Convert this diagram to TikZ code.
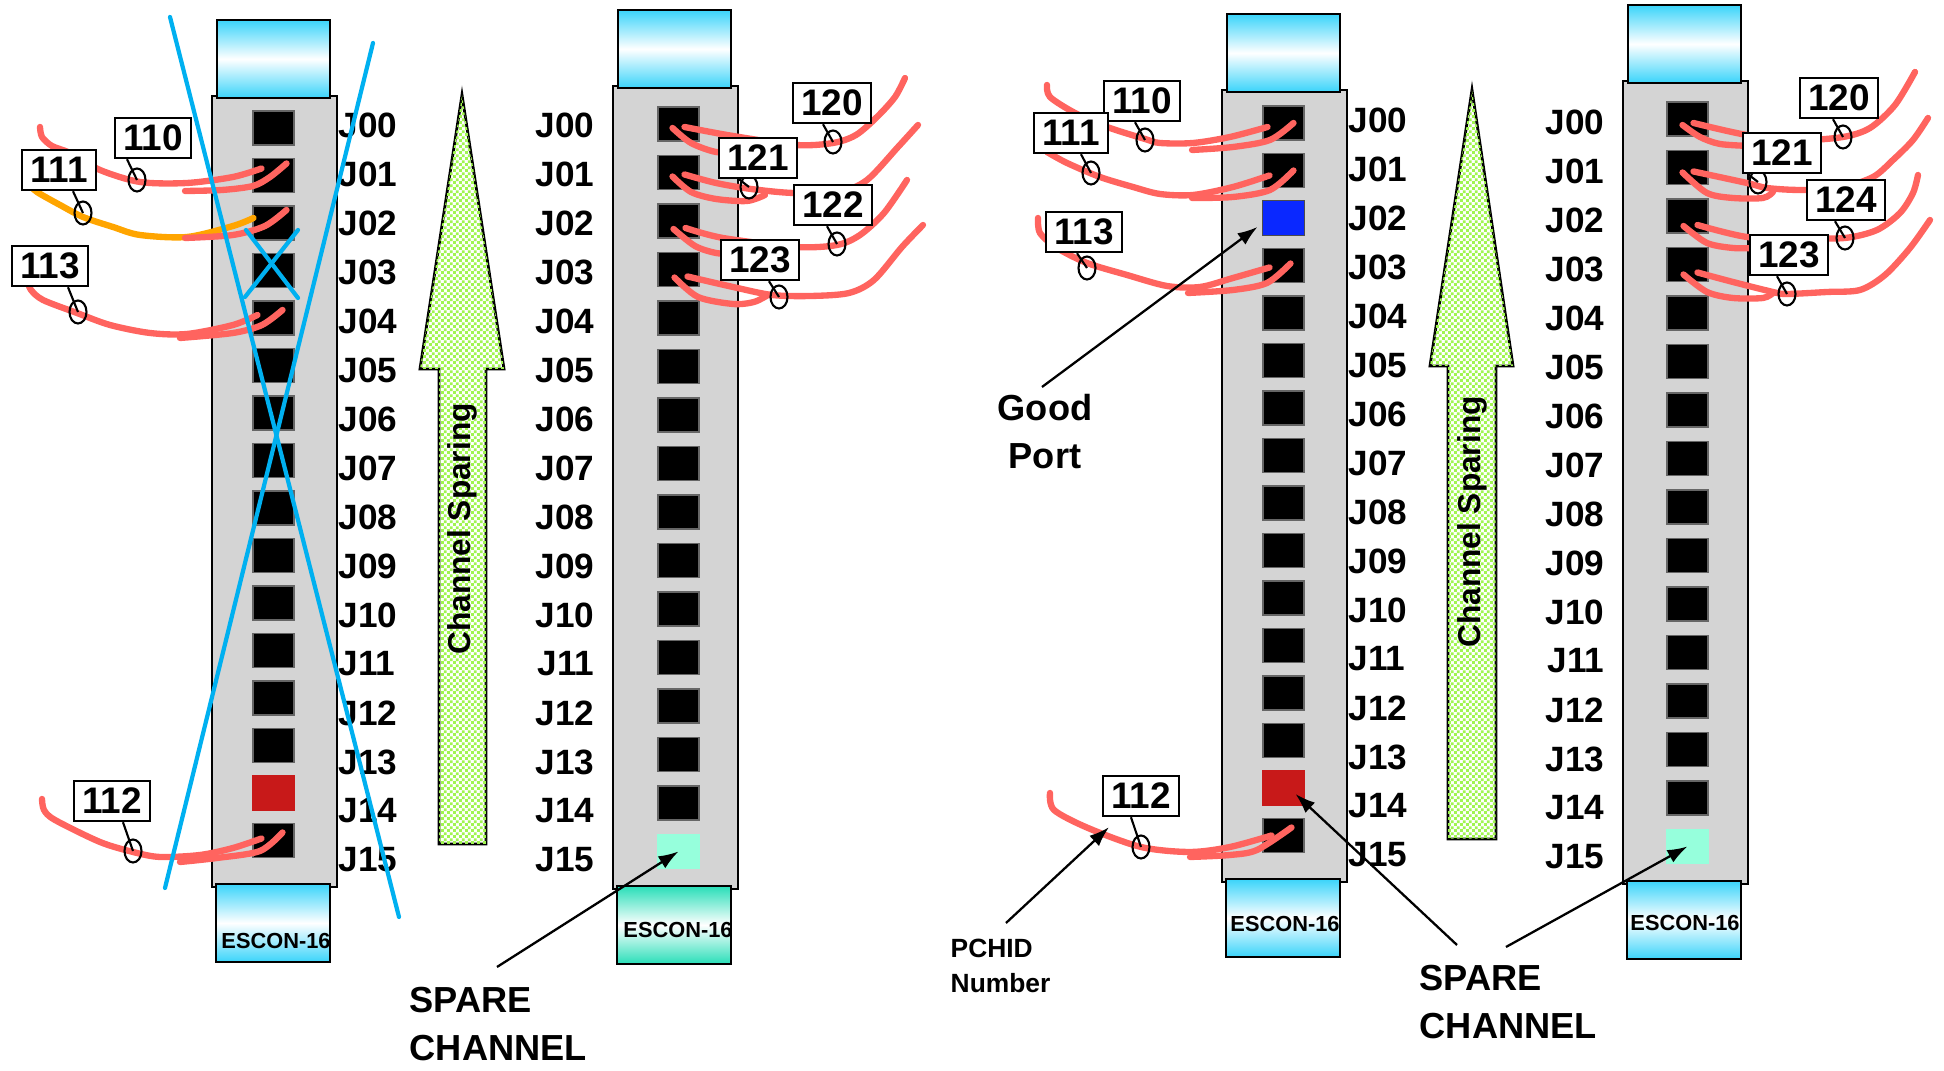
\documentclass[tikz,border=0pt]{standalone}
\usepackage{fontspec}
\setmainfont{Liberation Sans}
\usetikzlibrary{calc,shapes.geometric,arrows.meta,patterns.meta}

\definecolor{cardgray}{RGB}{212,212,212}
\definecolor{capcyan}{RGB}{58,212,250}
\definecolor{capteal}{RGB}{40,222,184}
\definecolor{cablered}{RGB}{255,100,95}
\definecolor{cableorange}{RGB}{255,165,0}
\definecolor{crossblue}{RGB}{0,176,240}
\definecolor{portred}{RGB}{200,25,25}
\definecolor{portblue}{RGB}{10,40,255}
\definecolor{portspare}{RGB}{150,255,220}
\definecolor{sparegreen}{RGB}{160,245,80}

% small green/white checks for the sparing arrows
\tikzdeclarepattern{
  name=finechecker,
  type=uncolored,
  bottom left={(0pt,0pt)},
  top right={(1.8pt,1.8pt)},
  tile size={(1.8pt,1.8pt)},
  code={
    \fill (0pt,0pt) rectangle (0.9pt,0.9pt);
    \fill (0.9pt,0.9pt) rectangle (1.8pt,1.8pt);
  }
}

\tikzset{
  card/.style={draw=black, line width=0.8pt, fill=cardgray},
  cap/.style={draw=black, line width=0.8pt, top color=#1, bottom color=#1, middle color=white},
  escon/.style={font=\fontsize{6.2}{7}\selectfont\bfseries, inner sep=0pt},
  port/.style={fill=black, draw=black!60, line width=0.3pt, minimum width=0.41cm, minimum height=0.34cm, inner sep=0pt},
  jack/.style={font=\fontsize{10}{12}\selectfont\bfseries, inner sep=0pt},
  pchid/.style={draw=black, fill=white, line width=0.7pt, font=\fontsize{10.5}{12}\selectfont\bfseries,
    inner xsep=0.08cm, inner ysep=0.07cm, text height=0.26cm, text depth=0pt},
  ring/.style={ellipse, draw=black, line width=0.6pt, minimum width=0.17cm, minimum height=0.23cm, inner sep=0pt},
  tagline/.style={draw=black, line width=0.6pt},
  cable/.style={draw=cablered, line width=1.8pt, line cap=round, line join=round},
  crossout/.style={draw=crossblue, line width=1.2pt, line cap=round},
  pointer/.style={draw=black, line width=0.65pt, -{Latex[length=0.2cm, width=0.14cm]}},
  sparing/.style={draw=black, line width=0.8pt, fill=white, postaction={pattern=finechecker, pattern color=sparegreen}},
  sparetxt/.style={font=\fontsize{9}{11}\selectfont\bfseries, inner sep=0pt},
  bigtxt/.style={font=\fontsize{10.3}{13.6}\selectfont\bfseries, inner sep=0pt},
  smalltxt/.style={font=\fontsize{7.5}{10.2}\selectfont\bfseries, inner sep=0pt}
}

\begin{document}
\begin{tikzpicture}[x=0.01cm, y=-0.01cm]
\useasboundingbox (0,0) rectangle (1944,1071);

% the four ESCON-16 cards, ports and jack labels
\foreach \cn/\cx/\cy/\cb/\px/\ps/\pp/\ly/\la/\lx/\bc/\ex/\ey in {%
  1/212/96/887/273.5/111/47.5/125/west/338/capcyan/276/941,%
  2/613/86/889/678.5/107/48.5/125/east/595/capteal/678/930,%
  3/1222/90/882/1283.5/106/47.5/120/west/1348/capcyan/1285/924,%
  4/1623/81/884/1687.5/102/48.5/122/east/1605/capcyan/1685/923}{
  \draw[card] (\cx,\cy) rectangle (\cx+125,\cb);
  \draw[cap=capcyan] (\cx+5,\cy-76) rectangle (\cx+118,\cy+2);
  \draw[cap=\bc] (\cx+4,\cb-3) rectangle (\cx+118,\cb+75);
  \node[escon] (c\cn esc) at (\ex,\ey) {ESCON-16};
  \foreach \i in {0,...,15}{
    \node[port] (c\cn p\i) at (\px,\ps+17+\i*\pp) {};
    \node[jack, anchor=\la] (c\cn j\i) at (\lx,\ly+\i*49) {J\ifnum\i<10 0\fi\i};
  }
}
\fill[portred] (c1p14.south west) rectangle (c1p14.north east);
\fill[portspare] (c2p15.south west) rectangle (c2p15.north east);
\filldraw[fill=portblue, draw=black!70, line width=0.5pt] (c3p2.south west) rectangle (c3p2.north east);
\fill[portred] (c3p14.south west) rectangle (c3p14.north east);
\fill[portspare] (c4p15.south west) rectangle (c4p15.north east);

% channel sparing arrows
\draw[sparing] (462,95) -- (504,369) -- (486,369) -- (486,844) -- (439,844) -- (439,369) -- (420,369) -- cycle;
\node[sparetxt, rotate=90] (csp1) at (462,529) {Channel Sparing};
\draw[sparing] (1472,90) -- (1513,366) -- (1496,366) -- (1496,839) -- (1448,839) -- (1448,366) -- (1430,366) -- cycle;
\node[sparetxt, rotate=90] (csp2) at (1472,522) {Channel Sparing};

% cable ends
\coordinate (c1f110) at (40,127);
\coordinate (c1e110) at ($(c1p1.center)+(-12,-7)$);
\coordinate (c1h110) at ($(c1p1.center)+(13,-12)$);
\coordinate (c1f111) at (30,185);
\coordinate (c1e111) at ($(c1p2.center)+(-20,-5)$);
\coordinate (c1h111) at ($(c1p2.center)+(13,-13)$);
\coordinate (c1f113) at (28,282);
\coordinate (c1e113) at ($(c1p4.center)+(-16,-3)$);
\coordinate (c1h113) at ($(c1p4.center)+(9,-8)$);
\coordinate (c1f112) at (42,799);
\coordinate (c1e112) at ($(c1p15.center)+(-12,-2)$);
\coordinate (c1h112) at ($(c1p15.center)+(9,-8)$);

\coordinate (c2f120) at (905,78);
\coordinate (c2e120) at ($(c2p0.center)+(6,3)$);
\coordinate (c2h120) at ($(c2p0.center)+(-6,4)$);
\coordinate (c2f121) at (918,125);
\coordinate (c2e121) at ($(c2p1.center)+(6,2)$);
\coordinate (c2h121) at ($(c2p1.center)+(-6,4)$);
\coordinate (c2f122) at (907,180);
\coordinate (c2e122) at ($(c2p2.center)+(7,7)$);
\coordinate (c2h122) at ($(c2p2.center)+(-5,8)$);
\coordinate (c2f123) at (923,225);
\coordinate (c2e123) at ($(c2p3.center)+(9,7)$);
\coordinate (c2h123) at ($(c2p3.center)+(-4,8)$);

\coordinate (c3f110) at (1047,85);
\coordinate (c3e110) at ($(c3p0.center)+(-16,4)$);
\coordinate (c3h110) at ($(c3p0.center)+(10,0)$);
\coordinate (c3f111) at (1047,152);
\coordinate (c3e111) at ($(c3p1.center)+(-14,5)$);
\coordinate (c3h111) at ($(c3p1.center)+(10,0)$);
\coordinate (c3f113) at (1038,218);
\coordinate (c3e113) at ($(c3p3.center)+(-14,2)$);
\coordinate (c3h113) at ($(c3p3.center)+(7,-2)$);
\coordinate (c3f112) at (1050,793);
\coordinate (c3e112) at ($(c3p15.center)+(-12,0)$);
\coordinate (c3h112) at ($(c3p15.center)+(8,-8)$);

\coordinate (c4f120) at (1915,72);
\coordinate (c4e120) at ($(c4p0.center)+(6,4)$);
\coordinate (c4h120) at ($(c4p0.center)+(-5,6)$);
\coordinate (c4f121) at (1928,118);
\coordinate (c4e121) at ($(c4p1.center)+(6,4)$);
\coordinate (c4h121) at ($(c4p1.center)+(-5,5)$);
\coordinate (c4f124) at (1918,175);
\coordinate (c4e124) at ($(c4p2.center)+(10,9)$);
\coordinate (c4h124) at ($(c4p2.center)+(-4,10)$);
\coordinate (c4f123) at (1930,220);
\coordinate (c4e123) at ($(c4p3.center)+(10,8)$);
\coordinate (c4h123) at ($(c4p3.center)+(-4,10)$);

% cables, card 1
\draw[cable] plot[smooth, tension=0.5] coordinates {(c1f110) (42,137) (52,146) (70,153) (100,170) (140,182) (187,183) (233,177) (c1e110)};
\draw[cable] plot[smooth, tension=0.5] coordinates {(185,191) (222,190) (253,186) (270,177) (c1h110)};
\draw[cable, draw=cableorange] plot[smooth, tension=0.5] coordinates {(c1f111) (37,192) (60,205) (83,217) (113,227) (140,235) (187,237) (233,226) (c1e111)};
\draw[cable] plot[smooth, tension=0.5] coordinates {(185,238) (233,235) (265,226) (c1h111)};
\draw[cable] plot[smooth, tension=0.5] coordinates {(c1f113) (31,290) (43,300) (77,313) (110,325) (150,333) (187,334) (233,325) (c1e113)};
\draw[cable] plot[smooth, tension=0.5] coordinates {(180,338) (233,333) (262,325) (c1h113)};
\draw[cable] plot[smooth, tension=0.5] coordinates {(c1f112) (44,810) (55,820) (100,842) (133,852) (160,857) (200,855) (233,848) (c1e112)};
\draw[cable] plot[smooth, tension=0.5] coordinates {(180,862) (217,858) (260,851) (c1h112)};

% cables, card 2
\draw[cable] plot[smooth, tension=0.5] coordinates {(c2e120) (733,136) (796,145) (833,143) (856,135) (877,117) (895,97) (c2f120)};
\draw[cable] plot[smooth, tension=0.5] coordinates {(c2h120) (691,143) (716,152) (740,152)};
\draw[cable] plot[smooth, tension=0.5] coordinates {(c2e121) (716,183) (751,189) (793,193) (839,192) (867,180) (898,147) (c2f121)};
\draw[cable] plot[smooth, tension=0.5] coordinates {(c2h121) (691,192) (716,199) (747,201) (765,195)};
\draw[cable] plot[smooth, tension=0.5] coordinates {(c2e122) (723,238) (796,247) (837,245) (860,235) (884,213) (c2f122)};
\draw[cable] plot[smooth, tension=0.5] coordinates {(c2h122) (695,246) (716,253) (735,254)};
\draw[cable] plot[smooth, tension=0.5] coordinates {(c2e123) (733,287) (772,295) (811,296) (849,293) (874,280) (902,247) (c2f123)};
\draw[cable] plot[smooth, tension=0.5] coordinates {(c2h123) (698,297) (733,304) (754,302) (768,295)};

% cables, card 3
\draw[cable] plot[smooth, tension=0.5] coordinates {(c3f110) (1050,97) (1075,113) (1107,127) (1145,139) (1160,143) (1193,143) (1230,137) (c3e110)};
\draw[cable] plot[smooth, tension=0.5] coordinates {(1192,150) (1233,147) (1270,140) (c3h110)};
\draw[cable] plot[smooth, tension=0.5] coordinates {(c3f111) (1067,163) (1100,177) (1133,187) (1160,194) (1193,195) (1233,187) (c3e111)};
\draw[cable] plot[smooth, tension=0.5] coordinates {(1192,198) (1233,197) (1270,190) (c3h111)};
\draw[cable] plot[smooth, tension=0.5] coordinates {(c3f113) (1040,233) (1057,248) (1087,263) (1127,275) (1167,286) (1200,287) (1233,278) (c3e113)};
\draw[cable] plot[smooth, tension=0.5] coordinates {(1188,293) (1233,290) (1267,283) (c3h113)};
\draw[cable] plot[smooth, tension=0.5] coordinates {(c3f112) (1054,810) (1088,828) (1141,847) (1190,852) (1230,847) (c3e112)};
\draw[cable] plot[smooth, tension=0.5] coordinates {(1190,857) (1230,855) (1257,850) (c3h112)};

% cables, card 4
\draw[cable] plot[smooth, tension=0.5] coordinates {(c4e120) (1747,135) (1800,140) (1843,137) (1870,128) (1895,105) (c4f120)};
\draw[cable] plot[smooth, tension=0.5] coordinates {(c4h120) (1700,137) (1720,144) (1750,146)};
\draw[cable] plot[smooth, tension=0.5] coordinates {(c4e121) (1747,183) (1767,188) (1800,190) (1840,188) (1873,177) (1893,160) (1913,140) (c4f121)};
\draw[cable] plot[smooth, tension=0.5] coordinates {(c4h121) (1707,193) (1733,198) (1763,198) (1773,192)};
\draw[cable] plot[smooth, tension=0.5] coordinates {(c4e124) (1747,237) (1800,238) (1845,238) (1877,230) (1900,213) (1913,193) (c4f124)};
\draw[cable] plot[smooth, tension=0.5] coordinates {(c4h124) (1707,243) (1733,248) (1755,248)};
\draw[cable] plot[smooth, tension=0.5] coordinates {(c4e123) (1733,282) (1773,292) (1787,294) (1827,292) (1860,290) (1885,275) (1910,248) (c4f123)};
\draw[cable] plot[smooth, tension=0.5] coordinates {(c4h123) (1707,292) (1733,298) (1763,298) (1773,293)};

% PCHID tags
\node[ring] (c1r110) at (137,180) {};
\node[ring] (c1r111) at (83,213) {};
\node[ring] (c1r113) at (78,312) {};
\node[ring] (c1r112) at (133,851) {};
\node[ring] (c2r120) at (833,142) {};
\node[ring] (c2r121) at (749,187) {};
\node[ring] (c2r122) at (837,244) {};
\node[ring] (c2r123) at (779,297) {};
\node[ring] (c3r110) at (1145,140) {};
\node[ring] (c3r111) at (1091,173) {};
\node[ring] (c3r113) at (1087,268) {};
\node[ring] (c3r112) at (1141,847) {};
\node[ring] (c4r120) at (1843,137) {};
\node[ring] (c4r121) at (1758,182) {};
\node[ring] (c4r124) at (1845,238) {};
\node[ring] (c4r123) at (1787,294) {};

\node[pchid] (c1n110) at (153,138) {110};
\node[pchid] (c1n111) at (59,170) {111};
\node[pchid] (c1n113) at (50,266) {113};
\node[pchid] (c1n112) at (112,801) {112};
\node[pchid] (c2n120) at (832,103) {120};
\node[pchid] (c2n121) at (758,158) {121};
\node[pchid] (c2n122) at (833,205) {122};
\node[pchid] (c2n123) at (760,260) {123};
\node[pchid] (c3n110) at (1142,101) {110};
\node[pchid] (c3n111) at (1071,133) {111};
\node[pchid] (c3n113) at (1084,232) {113};
\node[pchid] (c3n112) at (1141,796) {112};
\node[pchid] (c4n120) at (1839,98) {120};
\node[pchid] (c4n121) at (1782,153) {121};
\node[pchid] (c4n124) at (1846,200) {124};
\node[pchid] (c4n123) at (1789,255) {123};

\foreach \cn/\num in {1/110,1/111,1/113,1/112,2/120,2/121,2/122,2/123,3/110,3/111,3/113,3/112,4/120,4/121,4/124,4/123}
  \draw[tagline] (c\cn r\num.center) -- ($(c\cn r\num.center |- c\cn n\num.south)+(-10,0)$);

% card 1 is taken out of service
\draw[crossout] (170,17) -- (399,917);
\draw[crossout] (373,43) -- (165,888);
\draw[crossout] (246,230) -- (298,298);
\draw[crossout] (245,297) -- (298,230);

% callouts
\node[bigtxt, align=center, anchor=north] (goodtxt) at (1045,394) {Good\\Port};
\draw[pointer] ($(goodtxt.north)+(-3,-7)$) -- ($(c3p2.west)+(-5,9)$);

\node[smalltxt, align=left, anchor=north west] (pchidtxt) at (950,938) {PCHID\\Number};
\draw[pointer] ($(pchidtxt.north west)+(56,-15)$) -- ($(c3n112.south west)+(7,10)$);

\node[bigtxt, align=left, anchor=north west] (spareL) at (409,987) {SPARE\\CHANNEL};
\draw[pointer] ($(spareL.north west)+(88,-20)$) -- (c2p15.center);

\node[bigtxt, align=left, anchor=north west] (spareR) at (1419,965) {SPARE\\CHANNEL};
\draw[pointer] ($(spareR.north west)+(38,-20)$) -- ($(c3p14.center)+(12,6)$);
\draw[pointer] ($(spareR.north west)+(87,-18)$) -- (c4p15.center);
\end{tikzpicture}
\end{document}
